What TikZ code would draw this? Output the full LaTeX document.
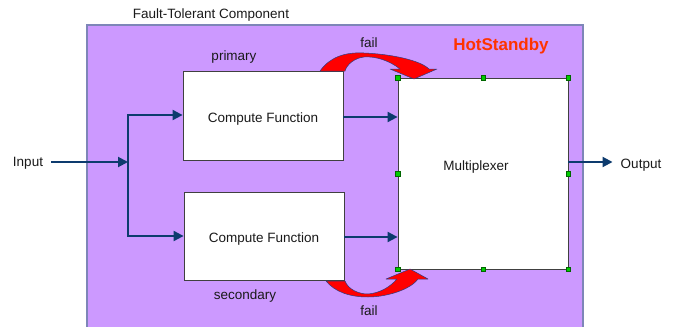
\documentclass[tikz,border=0pt]{standalone}
\usepackage{fontspec}
\setmainfont{Liberation Sans}
\usetikzlibrary{arrows.meta}
\definecolor{panel}{HTML}{CC99FF}
\definecolor{panelrim}{HTML}{7E86B8}
\definecolor{navy}{HTML}{0D3B6E}
\definecolor{ink}{HTML}{1A1A1A}
\definecolor{hotred}{HTML}{FF3300}
\definecolor{handle}{HTML}{00CC00}
\definecolor{failred}{HTML}{FF0000}
\definecolor{failrim}{HTML}{2E3C80}
\tikzset{
  % labels are placed by the centre of their capital letters
  txt/.style={font=\fontsize{13.5}{16}\selectfont, text=ink, inner sep=0pt,
    text height=9.7pt, text depth=0pt},
  cbox/.style={font=\fontsize{13.5}{16}\selectfont, text=ink, draw=black!75,
    line width=0.8pt, fill=white, minimum width=160pt, inner sep=0pt,
    text height=13.6pt, text depth=0pt},
  mbox/.style={draw=black!75, line width=0.8pt, fill=white, minimum width=170pt,
    minimum height=191pt, inner sep=0pt},
  flow/.style={draw=navy, line width=2pt, -{Triangle[length=10pt,width=10pt]}},
  wire/.style={draw=navy, line width=2pt},
  grip/.style={draw=green!40!black, line width=0.4pt, fill=handle, minimum size=4.5pt, inner sep=0pt},
  failarrow/.style={fill=failred, draw=failrim, line width=0.5pt, line join=round},
}
\begin{document}
\begin{tikzpicture}[x=1pt,y=-1pt]
  \useasboundingbox (0,0) rectangle (673,327);
  \clip (0,0) rectangle (673,327);

  % enclosing component panel (runs past the lower edge)
  \fill[panel] (87,25) rectangle (583,330);
  \draw[panelrim, line width=1.5pt] (87,330) -- (87,25) -- (583,25) -- (583,330);
  \node[txt] (title) at (211,13.3) {Fault-Tolerant Component};
  \node[txt, font=\fontsize{17}{20}\selectfont\bfseries, text=hotred, text height=12.2pt] (hs) at (501,44.3) {HotStandby};

  % the two compute channels and the multiplexer
  \node[cbox, minimum height=89pt] (prim) at (263,115.5) {Compute Function};
  \node[cbox, minimum height=88pt] (sec) at (264,236) {Compute Function};
  \node[mbox] (mux) at (483,173.5) {};
  \node[txt] (muxlabel) at (476,166) {Multiplexer};
  \node[txt] (plabel) at (234,55.5) {primary};
  \node[txt] (slabel) at (245,294.5) {secondary};

  % input fan-out
  \node[txt] (in) at (28,161.7) {Input};
  \coordinate (jn) at (128,162);
  \coordinate (jtop) at (128,115);
  \coordinate (jbot) at (128,236);
  \draw[flow] (51,162) -- (jn);
  \draw[wire] (jtop) -- (jbot);
  \draw[flow] ([xshift=-1pt]jtop) -- (jtop -| prim.west);
  \draw[flow] ([xshift=-1pt]jbot) -- (jbot -| sec.west);

  % channel outputs into the multiplexer
  \draw[flow] ([yshift=-1.5pt]prim.east) -- ([yshift=-1.5pt]prim.east -| mux.west);
  \draw[flow] ([yshift=-1pt]sec.east) -- ([yshift=-1pt]sec.east -| mux.west);

  % system output
  \node[txt] (out) at (641,164) {Output};
  \coordinate (muxout) at ([yshift=11.5pt]mux.east);
  \draw[flow] (muxout) -- ([xshift=-8pt]out.west |- muxout);

  % fail-over arrows
  \draw[failarrow] (320,71) .. controls (330,57) and (345,52) .. (364,53)
    .. controls (390,54) and (420,60) .. (429,69) -- (437,69) -- (414,79) -- (390,69) -- (400,69)
    .. controls (390,61) and (376,56) .. (364,57)
    .. controls (355,58) and (347,64) .. (345,71) -- cycle;
  \node[txt] (failtop) at (369,43) {fail};

  \draw[failarrow] (326,281) .. controls (335,292) and (350,297) .. (368,297)
    .. controls (386,297) and (410,290) .. (418,279) -- (428,279) -- (410,269) -- (386,279) -- (397,279)
    .. controls (390,287) and (380,293) .. (368,294)
    .. controls (358,294) and (348,289) .. (345,281) -- cycle;
  \node[txt] (failbot) at (369,311) {fail};

  % selection handles on the multiplexer
  \foreach \a in {north west,north,north east,west,east,south west,south,south east}
    \node[grip] at (mux.\a) {};
\end{tikzpicture}
\end{document}
